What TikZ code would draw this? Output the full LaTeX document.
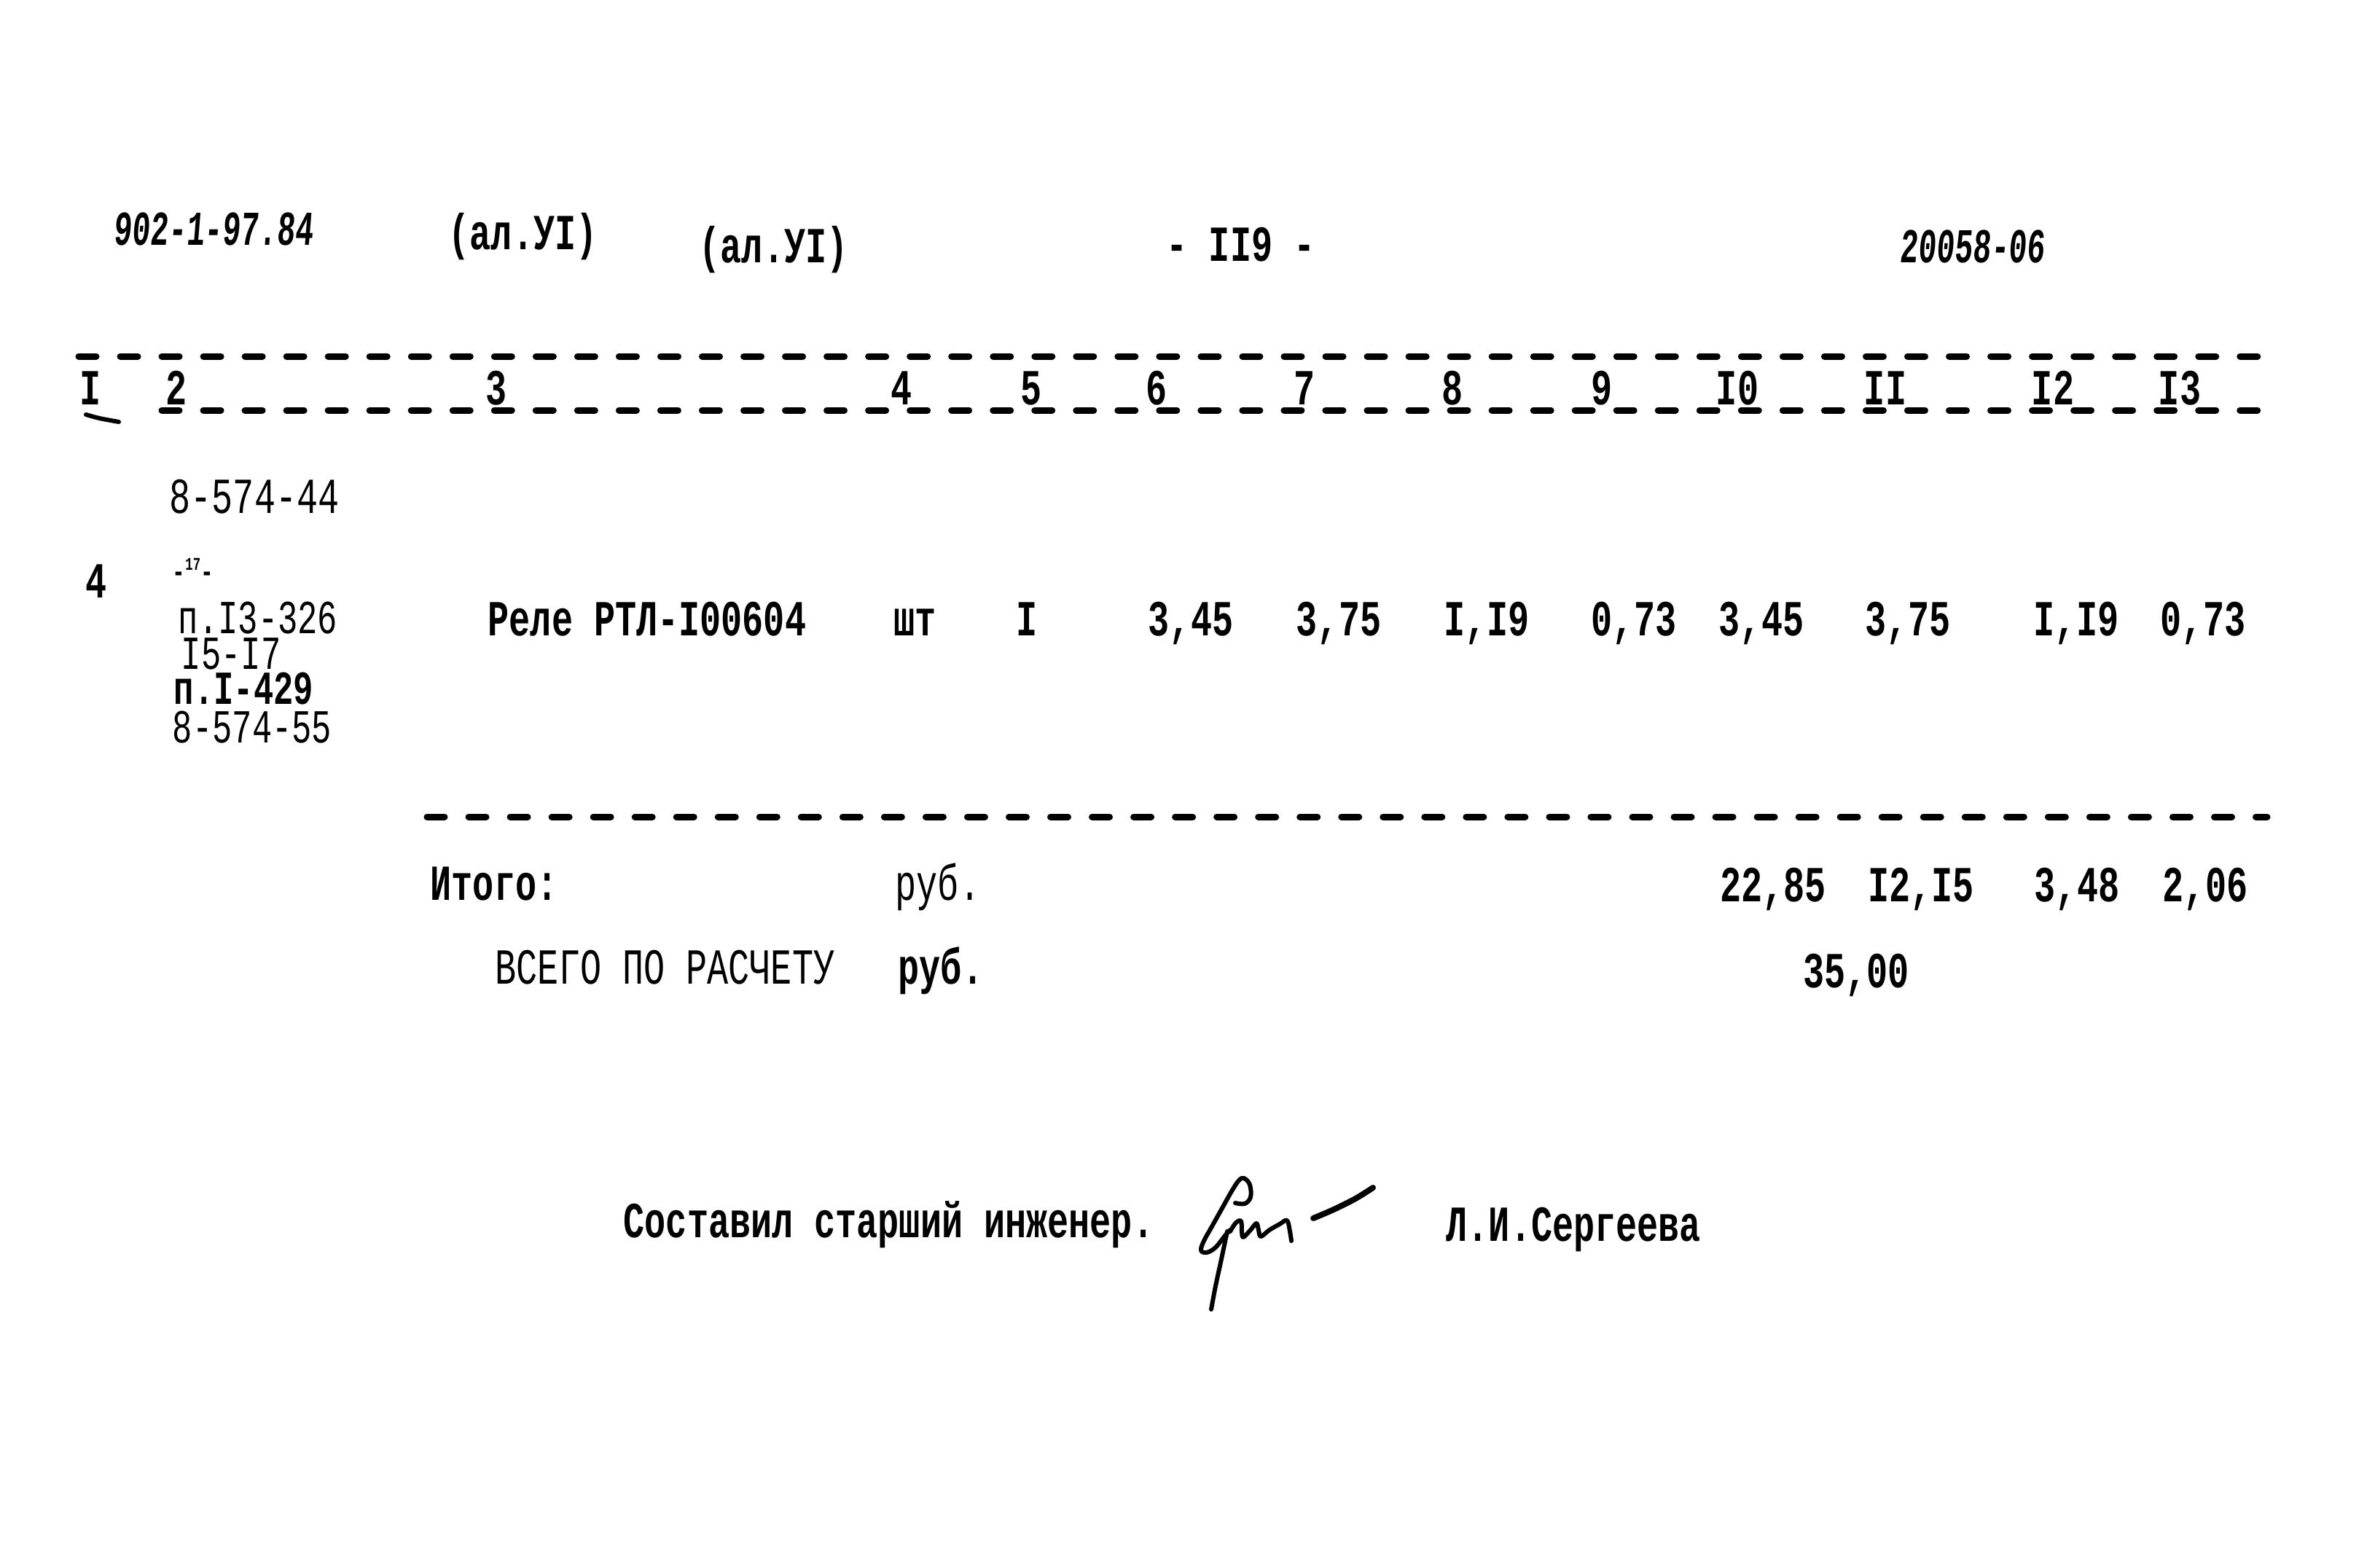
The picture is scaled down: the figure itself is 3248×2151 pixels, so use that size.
\documentclass[tikz,border=0pt]{standalone}
\usepackage{fontspec}
\newfontfamily\tw[FakeStretch=0.70]{Liberation Mono}
\newfontfamily\hw[FakeStretch=0.62,FakeSlant=0.08]{Liberation Mono}
\begin{document}
\begin{tikzpicture}[x={(0.01cm,0)},y={(0,-0.01cm)}]
\tikzset{
  txt/.style={font=\tw\bfseries\fontsize{19.7}{20}\selectfont, inner sep=0pt, anchor=base west},
  txtr/.style={font=\tw\fontsize{19.7}{20}\selectfont, inner sep=0pt, anchor=base west},
  col2/.style={font=\tw\fontsize{18.5}{19}\selectfont, inner sep=0pt, anchor=base west, text height=0.40cm, text depth=0.02cm},
  num/.style={txt, anchor=base},
  hand/.style={font=\hw\bfseries\fontsize{19}{20}\selectfont, inner sep=0pt, anchor=base west},
  rule/.style={line width=0.09cm, dash pattern=on 0.24cm off 0.33cm, line cap=round},
  sig/.style={line width=0.06cm, line cap=round, line join=round}
}
\useasboundingbox (0,0) rectangle (3248,2151);
% header
\node[hand] (code) at (155,336) {902-1-97.84};
\node[txt] (al1) at (615,342) {(ал.УI)};
\node[txt] (al2) at (959,360) {(ал.УI)};
\node[txt] (page) at (1600,358) {- II9 -};
\node[hand] (doc) at (2606,360) {20058-06};
% table rules
\draw[rule] (108,489) -- (3108,489);
\draw[rule] (222,563) -- (3110,563);
\draw[line width=0.06cm, line cap=round] (118,569) .. controls (135,574) .. (163,579);
% column numbers
\node[num] (c1) at (124,555) {I};
\node[num] (c2) at (242,555) {2};
\node[num] (c3) at (681,555) {3};
\node[num] (c4) at (1237,555) {4};
\node[num] (c5) at (1415,555) {5};
\node[num] (c6) at (1587,555) {6};
\node[num] (c7) at (1790,555) {7};
\node[num] (c8) at (1993,555) {8};
\node[num] (c9) at (2198,555) {9};
\node[num] (c10) at (2384,555) {I0};
\node[num] (c11) at (2587,555) {II};
\node[num] (c12) at (2817,555) {I2};
\node[num] (c13) at (2991,555) {I3};
% row
\node[txtr] (r0) at (232,704) {8-574-44};
\node[txt] (rn) at (117,820) {4};
\node[txtr, font=\tw\bfseries\fontsize{12}{12}\selectfont] (mk) at (236,798) {-\raisebox{0.7ex}{\fontsize{7}{7}\selectfont 17}-};
\node[col2] (r1) at (244,869) {п.I3-326};
\node[col2] (r2) at (248,918) {I5-I7};
\node[col2, font=\tw\bfseries\fontsize{18.5}{19}\selectfont] (r3) at (238,966) {п.I-429};
\node[col2] (r4) at (236,1019) {8-574-55};
\node[txt] (name) at (669,872) {Реле РТЛ-I00604};
\node[txt] (unit) at (1226,872) {шт};
\node[num] (qty) at (1409,872) {I};
\node[num] (v6) at (1634,872) {3,45};
\node[num] (v7) at (1837,872) {3,75};
\node[num] (v8) at (2040,872) {I,I9};
\node[num] (v9) at (2242,872) {0,73};
\node[num] (v10) at (2417,872) {3,45};
\node[num] (v11) at (2618,872) {3,75};
\node[num] (v12) at (2849,872) {I,I9};
\node[num] (v13) at (3023,872) {0,73};
% totals
\draw[rule] (586,1121) -- (3111,1121);
\node[txt] (itogo) at (590,1235) {Итого:};
\node[txtr] (rub1) at (1228,1235) {руб.};
\node[num] (t10) at (2433,1237) {22,85};
\node[num] (t11) at (2636,1237) {I2,I5};
\node[num] (t12) at (2850,1237) {3,48};
\node[num] (t13) at (3026,1237) {2,06};
\node[txtr] (vsego) at (679,1350) {ВСЕГО ПО РАСЧЕТУ};
\node[txt] (rub2) at (1232,1350) {руб.};
\node[num] (sum) at (2547,1355) {35,00};
% signature line
\node[txt] (sost) at (855,1698) {Составил старший инженер.};
\node[txt] (fio) at (1984,1703) {Л.И.Сергеева};
\draw[sig] plot[smooth, tension=0.6] coordinates {(1695,1651) (1708,1652) (1716,1643) (1715,1626) (1707,1617) (1700,1620) (1690,1635) (1676,1660) (1662,1685) (1652,1703) (1648,1716) (1656,1719) (1668,1712) (1680,1697) (1688,1688)};
\draw[sig] plot[smooth, tension=0.6] coordinates {(1684,1690) (1676,1728) (1668,1765) (1662,1797)};
\draw[sig] plot[smooth, tension=0.6] coordinates {(1688,1690) (1696,1678) (1703,1676) (1704,1690) (1706,1698) (1716,1688) (1724,1679) (1727,1688) (1730,1697) (1742,1688) (1756,1680) (1766,1675) (1770,1690) (1772,1703)};
\draw[sig, line width=0.08cm] plot[smooth, tension=0.6] coordinates {(1802,1672) (1830,1660) (1860,1645) (1884,1630)};
\end{tikzpicture}
\end{document}
